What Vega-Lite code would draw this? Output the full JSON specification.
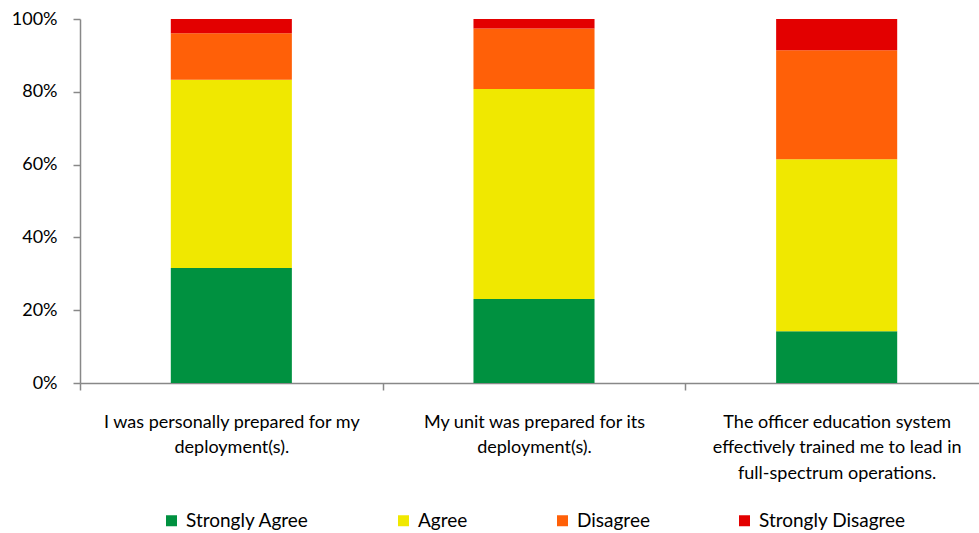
{
  "$schema": "https://vega.github.io/schema/vega-lite/v6.json",
  "autosize": {"type": "none"},
  "width": 899,
  "height": 364,
  "padding": {"left": 80, "top": 19, "right": 0, "bottom": 150},
  "background": "white",
  "config": {
    "view": {"stroke": null},
    "font": "Lato",
    "axis": {"grid": false, "domainColor": "#888888", "tickColor": "#888888", "labelColor": "#000000", "labelFont": "Lato", "labelFontSize": 18, "tickSize": 7, "domainWidth": 1.5, "tickWidth": 1.5, "labelLimit": 0}
  },
  "data": {
    "values": [
      {"question": "I was personally prepared for my\ndeployment(s).", "response": "Strongly Agree", "pct": 31.6},
      {"question": "I was personally prepared for my\ndeployment(s).", "response": "Agree", "pct": 51.7},
      {"question": "I was personally prepared for my\ndeployment(s).", "response": "Disagree", "pct": 12.8},
      {"question": "I was personally prepared for my\ndeployment(s).", "response": "Strongly Disagree", "pct": 3.9},
      {"question": "My unit was prepared for its\ndeployment(s).", "response": "Strongly Agree", "pct": 23.1},
      {"question": "My unit was prepared for its\ndeployment(s).", "response": "Agree", "pct": 57.7},
      {"question": "My unit was prepared for its\ndeployment(s).", "response": "Disagree", "pct": 16.6},
      {"question": "My unit was prepared for its\ndeployment(s).", "response": "Strongly Disagree", "pct": 2.6},
      {"question": "The officer education system\neffectively trained me to lead in\nfull-spectrum operations.", "response": "Strongly Agree", "pct": 14.2},
      {"question": "The officer education system\neffectively trained me to lead in\nfull-spectrum operations.", "response": "Agree", "pct": 47.3},
      {"question": "The officer education system\neffectively trained me to lead in\nfull-spectrum operations.", "response": "Disagree", "pct": 29.9},
      {"question": "The officer education system\neffectively trained me to lead in\nfull-spectrum operations.", "response": "Strongly Disagree", "pct": 8.6}
    ]
  },
  "transform": [
    {"calculate": "indexof(['Strongly Agree', 'Agree', 'Disagree', 'Strongly Disagree'], datum.response)", "as": "stackOrder"}
  ],
  "mark": {"type": "bar", "width": {"band": 0.4}},
  "encoding": {
    "x": {
      "field": "question", "type": "nominal", "sort": null,
      "scale": {"range": [0, 908], "paddingInner": 0, "paddingOuter": 0},
      "axis": {"title": null, "labelAngle": 0, "labelExpr": "split(datum.label, '\\n')", "labelBaseline": "top", "labelPadding": 23, "labelLineHeight": 25.5, "tickBand": "extent", "labelAlign": "center"}
    },
    "y": {
      "field": "pct", "type": "quantitative", "stack": "zero",
      "scale": {"domain": [0, 100]},
      "axis": {"title": null, "values": [0, 20, 40, 60, 80, 100], "labelExpr": "datum.value + '%'", "labelPadding": 16}
    },
    "order": {"field": "stackOrder", "type": "quantitative", "sort": "ascending"},
    "color": {
      "field": "response", "type": "nominal",
      "sort": ["Strongly Agree", "Agree", "Disagree", "Strongly Disagree"],
      "scale": {"domain": ["Strongly Agree", "Agree", "Disagree", "Strongly Disagree"], "range": ["#009140", "#F0E800", "#FF6008", "#E30000"]},
      "legend": {"title": null, "orient": "none", "direction": "horizontal", "legendX": 82, "legendY": 492, "symbolType": "square", "symbolSize": 121, "symbolStrokeWidth": 0, "labelFontSize": 19, "labelFont": "Lato", "labelColor": "#000000", "labelOffset": 5, "columnPadding": 85, "padding": 0, "labelLimit": 0}
    }
  }
}
